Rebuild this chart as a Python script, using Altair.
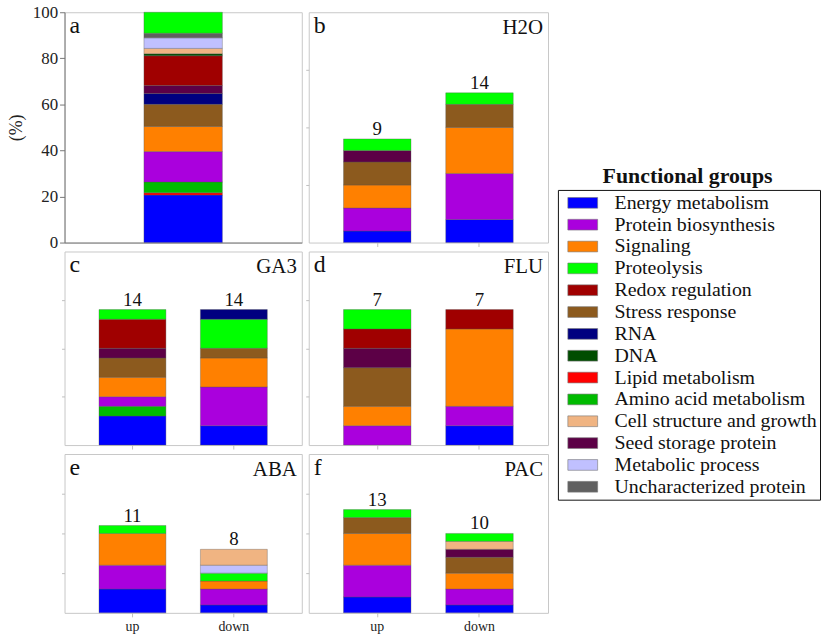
import altair as alt
import pandas as pd

SERIF = "Liberation Serif"

# Functional groups and their fill colours (legend order)
groups = [
    "Energy metabolism", "Protein biosynthesis", "Signaling", "Proteolysis",
    "Redox regulation", "Stress response", "RNA", "DNA", "Lipid metabolism",
    "Amino acid metabolism", "Cell structure and growth", "Seed storage protein",
    "Metabolic process", "Uncharacterized protein",
]
group_colors = [
    "#0000ff", "#aa00dd", "#ff8000", "#00ff00",
    "#a00000", "#8c5a1e", "#000080", "#004d00", "#ff0000",
    "#00bb00", "#f0b482", "#5c0046",
    "#c0c0ff", "#606060",
]

# Stacked shares (%), each list runs from the bottom of the bar to its top
all_groups = ["Energy metabolism", "Lipid metabolism", "Amino acid metabolism",
              "Protein biosynthesis", "Signaling", "Stress response", "RNA",
              "Seed storage protein", "Redox regulation", "DNA",
              "Cell structure and growth", "Metabolic process",
              "Uncharacterized protein", "Proteolysis"]
all_share = [20.6, 1.0, 4.7, 13.2, 10.9, 9.6, 4.7, 3.5, 12.9, 0.9, 2.3, 4.6, 2.0, 9.1]

h2o_up_groups = ["Energy metabolism", "Protein biosynthesis", "Signaling",
                 "Stress response", "Seed storage protein", "Proteolysis"]
h2o_up_share = [5, 10, 10, 10, 5, 5]
h2o_down_groups = ["Energy metabolism", "Protein biosynthesis", "Signaling",
                   "Stress response", "Proteolysis"]
h2o_down_share = [10, 20, 20, 10, 5]

ga3_up_groups = ["Energy metabolism", "Amino acid metabolism", "Protein biosynthesis",
                 "Signaling", "Stress response", "Seed storage protein",
                 "Redox regulation", "Proteolysis"]
ga3_up_share = [15, 5, 5, 10, 10, 5, 15, 5]
ga3_down_groups = ["Energy metabolism", "Protein biosynthesis", "Signaling",
                   "Stress response", "Proteolysis", "RNA"]
ga3_down_share = [10, 20, 15, 5, 15, 5]

flu_up_groups = ["Protein biosynthesis", "Signaling", "Stress response",
                 "Seed storage protein", "Redox regulation", "Proteolysis"]
flu_up_share = [10, 10, 20, 10, 10, 10]
flu_down_groups = ["Energy metabolism", "Protein biosynthesis", "Signaling",
                   "Redox regulation"]
flu_down_share = [10, 10, 40, 10]

aba_up_groups = ["Energy metabolism", "Protein biosynthesis", "Signaling", "Proteolysis"]
aba_up_share = [15, 15, 20, 5]
aba_down_groups = ["Energy metabolism", "Protein biosynthesis", "Signaling",
                   "Proteolysis", "Metabolic process", "Cell structure and growth"]
aba_down_share = [5, 10, 5, 5, 5, 10]

pac_up_groups = ["Energy metabolism", "Protein biosynthesis", "Signaling",
                 "Stress response", "Proteolysis"]
pac_up_share = [10, 20, 20, 10, 5]
pac_down_groups = ["Energy metabolism", "Protein biosynthesis", "Signaling",
                   "Stress response", "Seed storage protein",
                   "Cell structure and growth", "Proteolysis"]
pac_down_share = [5, 10, 10, 10, 5, 5, 5]

# Number of proteins printed above each bar (up, down)
h2o_counts = [9, 14]
ga3_counts = [14, 14]
flu_counts = [7, 7]
aba_counts = [11, 8]
pac_counts = [13, 10]

color_enc = alt.Color(
    "group:N",
    scale=alt.Scale(domain=groups, range=group_colors),
    legend=alt.Legend(
        title=None,
        orient="none",
        legendX=497,
        legendY=179,
        strokeColor="#111111",
        fillColor="white",
        padding=3,
        rowPadding=2.0,
        symbolType="M-3,-1.08H3V1.08H-3Z",
        symbolSize=100,
        symbolOffset=12,
        symbolStrokeColor="#777777",
        symbolStrokeWidth=0.6,
        symbolOpacity=1,
        labelFont=SERIF,
        labelFontSize=20,
        labelColor="#111111",
        labelOffset=22,
        labelLimit=400,
    ),
)


def make_panel(letter, condition, stacks, counts, width, height,
               overview=False, x_labels=False):
    rows = []
    totals = []
    for i, (bar, (gs, vs)) in enumerate(stacks.items()):
        for k, (g, v) in enumerate(zip(gs, vs)):
            rows.append({"bar": bar, "group": g, "share": v, "k": k})
        if counts is not None:
            totals.append({"bar": bar, "total": sum(vs), "n": str(counts[i])})
    df = pd.DataFrame(rows)
    order = list(stacks.keys())

    if overview:
        x_axis = alt.Axis(labels=False, ticks=False, title=None, domain=True,
                          domainColor="#777777")
        y_axis = alt.Axis(values=[0, 20, 40, 60, 80, 100], title="(%)", grid=False,
                          labelFont=SERIF, labelFontSize=17, labelColor="#222222",
                          labelPadding=2, tickSize=5, tickColor="#777777",
                          domainColor="#777777", titleFont=SERIF, titleFontSize=18,
                          titleFontWeight="normal", titleColor="#222222",
                          titlePadding=7)
    else:
        x_axis = alt.Axis(labels=x_labels, ticks=True, tickSize=4,
                          tickColor="#c0c0c0", domain=False, title=None,
                          labelAngle=0, labelFont=SERIF, labelFontSize=14,
                          labelColor="#222222", labelPadding=3)
        y_axis = alt.Axis(values=[25, 50, 75], labels=False, domain=False,
                          tickSize=3, tickColor="#c0c0c0", title=None, grid=False)

    x_enc = alt.X("bar:N", sort=order,
                  scale=alt.Scale(paddingInner=0.34, paddingOuter=0.34),
                  axis=x_axis)
    y_scale = alt.Scale(domain=[0, 100], nice=False)

    bar_kw = dict(stroke="#555555", strokeWidth=0.5, strokeOpacity=0.7)
    if overview:
        bar_kw["size"] = 79
    bars = alt.Chart(df).mark_bar(**bar_kw).encode(
        x=x_enc,
        y=alt.Y("share:Q", stack="zero", scale=y_scale, axis=y_axis),
        color=color_enc,
        order=alt.Order("k:Q", sort="ascending"),
    )
    layers = [bars]

    if totals:
        count_text = alt.Chart(pd.DataFrame(totals)).mark_text(
            baseline="alphabetic", dy=-4, font=SERIF, fontSize=19, color="#111111"
        ).encode(
            x=x_enc,
            y=alt.Y("total:Q", scale=y_scale, axis=y_axis),
            text="n:N",
        )
        layers.append(count_text)

    letter_text = alt.Chart(pd.DataFrame({"t": [letter]})).mark_text(
        align="left", baseline="alphabetic", font=SERIF, fontSize=24, color="#111111"
    ).encode(x=alt.value(5), y=alt.value(21), text="t:N")
    layers.append(letter_text)

    if condition:
        cond_text = alt.Chart(pd.DataFrame({"t": [condition]})).mark_text(
            align="right", baseline="alphabetic", font=SERIF, fontSize=21,
            color="#111111"
        ).encode(x=alt.value(width - 5), y=alt.value(22), text="t:N")
        layers.append(cond_text)

    return alt.layer(*layers).properties(width=width, height=height)


panel_a = make_panel("a", None, {"all": (all_groups, all_share)}, None,
                     239, 232, overview=True)
panel_b = make_panel("b", "H2O",
                     {"up": (h2o_up_groups, h2o_up_share),
                      "down": (h2o_down_groups, h2o_down_share)},
                     h2o_counts, 241, 232)
panel_c = make_panel("c", "GA3",
                     {"up": (ga3_up_groups, ga3_up_share),
                      "down": (ga3_down_groups, ga3_down_share)},
                     ga3_counts, 239, 195)
panel_d = make_panel("d", "FLU",
                     {"up": (flu_up_groups, flu_up_share),
                      "down": (flu_down_groups, flu_down_share)},
                     flu_counts, 241, 195)
panel_e = make_panel("e", "ABA",
                     {"up": (aba_up_groups, aba_up_share),
                      "down": (aba_down_groups, aba_down_share)},
                     aba_counts, 239, 160, x_labels=True)
panel_f = make_panel("f", "PAC",
                     {"up": (pac_up_groups, pac_up_share),
                      "down": (pac_down_groups, pac_down_share)},
                     pac_counts, 241, 160, x_labels=True)

chart = alt.concat(
    panel_a, panel_b, panel_c, panel_d, panel_e, panel_f,
    columns=2,
    spacing={"row": 9, "column": 7},
    bounds="flush",
    align="each",
    title=alt.TitleParams(
        "Functional groups", anchor="start", frame="group", align="left",
        baseline="top", dx=542, dy=187, offset=0, font=SERIF, fontSize=22,
        fontWeight="bold", color="#111111",
    ),
).properties(
    padding={"left": 7, "top": 0, "right": 0, "bottom": 0},
    background="white",
).configure_view(
    stroke="#c8c8c8", strokeWidth=1
)

chart.save("out.html", embed_options={"renderer": "svg", "actions": False})
